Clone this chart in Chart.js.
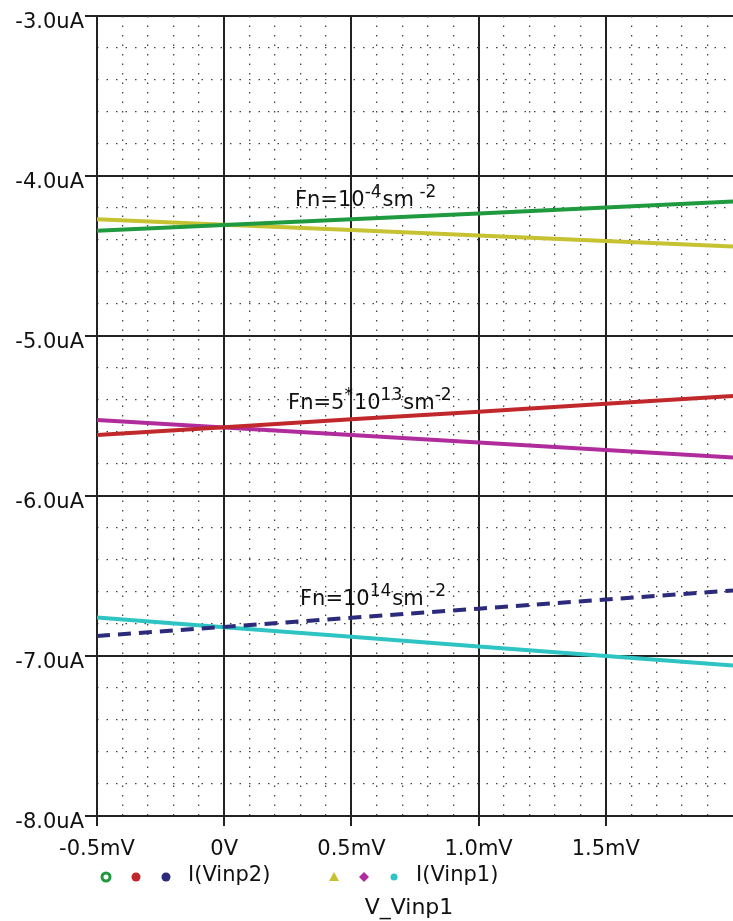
<!DOCTYPE html>
<html>
<head>
<meta charset="utf-8">
<script src="https://cdn.jsdelivr.net/npm/chart.js@4/dist/chart.umd.min.js"></script>
<style>
  html, body { margin: 0; padding: 0; background: #fff; overflow: hidden; }
  #wrap { width: 733px; height: 921px; }
</style>
</head>
<body>
<div id="wrap"><canvas id="c" width="733" height="921"></canvas></div>
<script>
// Sweep of V_Vinp1 (mV) and the input currents (uA) for three Fn values
const sweepMv      = [-0.5, 0, 0.5, 1.0, 1.5, 2.0];
const fnLowVinp2   = [-4.342, -4.306, -4.270, -4.234, -4.197, -4.160];
const fnLowVinp1   = [-4.270, -4.304, -4.338, -4.372, -4.406, -4.440];
const fnMidVinp2   = [-5.619, -5.570, -5.521, -5.473, -5.424, -5.375];
const fnMidVinp1   = [-5.525, -5.572, -5.619, -5.666, -5.713, -5.760];
const fnHighVinp2  = [-6.875, -6.818, -6.761, -6.704, -6.647, -6.590];
const fnHighVinp1  = [-6.760, -6.820, -6.880, -6.940, -7.000, -7.060];

// Axis tick labels
const xTickValues = [-0.5, 0, 0.5, 1.0, 1.5];
const xTickText   = ['-0.5mV', '0V', '0.5mV', '1.0mV', '1.5mV'];
const yTickValues = [-3, -4, -5, -6, -7, -8];
const yTickText   = ['-3.0uA', '-4.0uA', '-5.0uA', '-6.0uA', '-7.0uA', '-8.0uA'];

// Legend groups, axis title and curve labels
const legendNames = ['I(Vinp2)', 'I(Vinp1)'];
const xTitle = 'V_Vinp1';
// each label: pieces of [text, isSuperscript]
const fnLabels = [
  [['Fn=10', 0], ['-4', 1], ['sm', 0], [' -2', 1]],
  [['Fn=5', 0], ['*', 1], ['10', 0], ['13', 1], ['sm', 0], ['-2', 1]],
  [['Fn=10', 0], ['14', 1], ['sm', 0], [' -2', 1]]
];

const COLORS = {
  green: '#1f9a3f', yellow: '#c6c232', red: '#c0282c',
  magenta: '#b02c9c', navy: '#2c2a7a', cyan: '#2ec4c4'
};
const FONT = 'DejaVu Sans';

function pts(ys) { return sweepMv.map((x, i) => ({ x, y: ys[i] })); }
function line(data, color, dash) {
  return { data: pts(data), borderColor: color, borderWidth: 4, borderDash: dash || [],
           pointRadius: 0, fill: false, tension: 0, borderCapStyle: 'butt' };
}

const isNear = (v, step) => Math.abs(v / step - Math.round(v / step)) < 1e-6;

// Curve captions placed in data units (mV, uA at the text baseline)
const fnLabelAt = [[0.278, -4.1875], [0.251, -5.456], [0.298, -6.681]];

const captionPlugin = {
  id: 'captions',
  afterDatasetsDraw(chart) {
    const { ctx, scales: { x, y } } = chart;
    ctx.save();
    ctx.fillStyle = '#111';
    ctx.textBaseline = 'alphabetic';
    fnLabels.forEach((pieces, k) => {
      let px = x.getPixelForValue(fnLabelAt[k][0]);
      const py = y.getPixelForValue(fnLabelAt[k][1]);
      pieces.forEach(([t, sup]) => {
        ctx.font = (sup ? '17px "' : '21px "') + FONT + '"';
        ctx.fillText(t, px, sup ? py - 9 : py);
        px += ctx.measureText(t).width + (sup ? 1 : 0);
      });
    });
    ctx.restore();
  }
};

function marker(ctx, kind, cx, cy, color) {
  ctx.save();
  ctx.fillStyle = color; ctx.strokeStyle = color;
  ctx.beginPath();
  if (kind === 'ring') {
    ctx.lineWidth = 3; ctx.arc(cx, cy, 4, 0, Math.PI * 2); ctx.stroke();
  } else if (kind === 'tri') {
    ctx.moveTo(cx, cy - 5); ctx.lineTo(cx + 5, cy + 4); ctx.lineTo(cx - 5, cy + 4); ctx.closePath(); ctx.fill();
  } else if (kind === 'diamond') {
    ctx.moveTo(cx, cy - 5); ctx.lineTo(cx + 5, cy); ctx.lineTo(cx, cy + 5); ctx.lineTo(cx - 5, cy); ctx.closePath(); ctx.fill();
  } else {
    ctx.arc(cx, cy, kind === 'small' ? 3.5 : 4.5, 0, Math.PI * 2); ctx.fill();
  }
  ctx.restore();
}

// Probe legend row and the sweep-variable name underneath
const legendPlugin = {
  id: 'probeLegend',
  afterDraw(chart) {
    const { ctx } = chart;
    const ds = chart.data.datasets;
    const rowY = 877;
    const groups = [
      { start: 106, items: [[0, 'ring'], [2, 'dot'], [4, 'dot']], name: legendNames[0] },
      { start: 334, items: [[1, 'tri'], [3, 'diamond'], [5, 'small']], name: legendNames[1] }
    ];
    ctx.save();
    ctx.fillStyle = '#111';
    ctx.textBaseline = 'middle';
    groups.forEach(g => {
      g.items.forEach(([di, kind], j) => marker(ctx, kind, g.start + j * 30, rowY, ds[di].borderColor));
      ctx.font = '21px "' + FONT + '"';
      ctx.textAlign = 'left';
      ctx.fillText(g.name, g.start + 82, rowY - 1);
    });
    ctx.font = '22px "' + FONT + '"';
    ctx.textAlign = 'center';
    ctx.fillText(xTitle, 409, 908);
    ctx.restore();
  }
};

const chart = new Chart(document.getElementById('c'), {
  type: 'line',
  data: {
    datasets: [
      line(fnLowVinp2, COLORS.green),
      line(fnLowVinp1, COLORS.yellow),
      line(fnMidVinp2, COLORS.red),
      line(fnMidVinp1, COLORS.magenta),
      line(fnHighVinp2, COLORS.navy, [13, 8]),
      line(fnHighVinp1, COLORS.cyan)
    ]
  },
  options: {
    responsive: false,
    animation: false,
    layout: { padding: { top: 16, left: 0, right: 0, bottom: 0 } },
    plugins: { legend: { display: false }, tooltip: { enabled: false } },
    scales: {
      x: {
        type: 'linear', position: 'bottom', min: -0.5, max: 2.0,
        afterFit(s) { s.height = 105; },
        afterBuildTicks(s) { s.ticks = xTickValues.map(v => ({ value: v })); },
        ticks: {
          autoSkip: false, maxRotation: 0, padding: 11, color: '#111',
          font: { family: FONT, size: 21 },
          callback(v) {
            const i = xTickValues.findIndex(t => Math.abs(t - v) < 1e-9);
            return i >= 0 ? xTickText[i] : '';
          }
        },
        grid: { color: '#222', lineWidth: 2, tickLength: 10, tickWidth: 2, tickColor: '#222' },
        border: { display: true, color: '#222', width: 2 }
      },
      y: {
        type: 'linear', position: 'left', min: -8, max: -3,
        afterFit(s) { s.width = 97; },
        afterBuildTicks(s) { s.ticks = yTickValues.map(v => ({ value: v })); },
        ticks: {
          padding: 1, labelOffset: 7, color: '#111',
          font: { family: FONT, size: 21 },
          callback(v) {
            const i = yTickValues.findIndex(t => Math.abs(t - v) < 1e-9);
            return i >= 0 ? yTickText[i] : '';
          }
        },
        grid: { color: '#222', lineWidth: 2, tickLength: 12, tickWidth: 2, tickColor: '#222' },
        border: { display: true, color: '#222', width: 2 }
      },
      xMinor: {
        type: 'linear', position: 'top', min: -0.5, max: 2.0,
        afterFit(s) { s.height = 0; },
        ticks: { display: false, stepSize: 0.1 },
        grid: {
          drawTicks: false, lineWidth: 1.3,
          color: c => (c.tick && isNear(c.tick.value, 0.5)) ? 'rgba(0,0,0,0)' : '#444'
        },
        border: { display: false, dash: [1.5, 8] }
      },
      yMinor: {
        type: 'linear', position: 'right', min: -8, max: -3,
        afterFit(s) { s.width = 0; },
        ticks: { display: false, stepSize: 0.2 },
        grid: {
          drawTicks: false, lineWidth: 1.3,
          color: c => (c.tick && isNear(c.tick.value, 1)) ? 'rgba(0,0,0,0)' : '#444'
        },
        border: { display: false, dash: [1.5, 8] }
      }
    }
  },
  plugins: [captionPlugin, legendPlugin]
});
</script>
</body>
</html>
